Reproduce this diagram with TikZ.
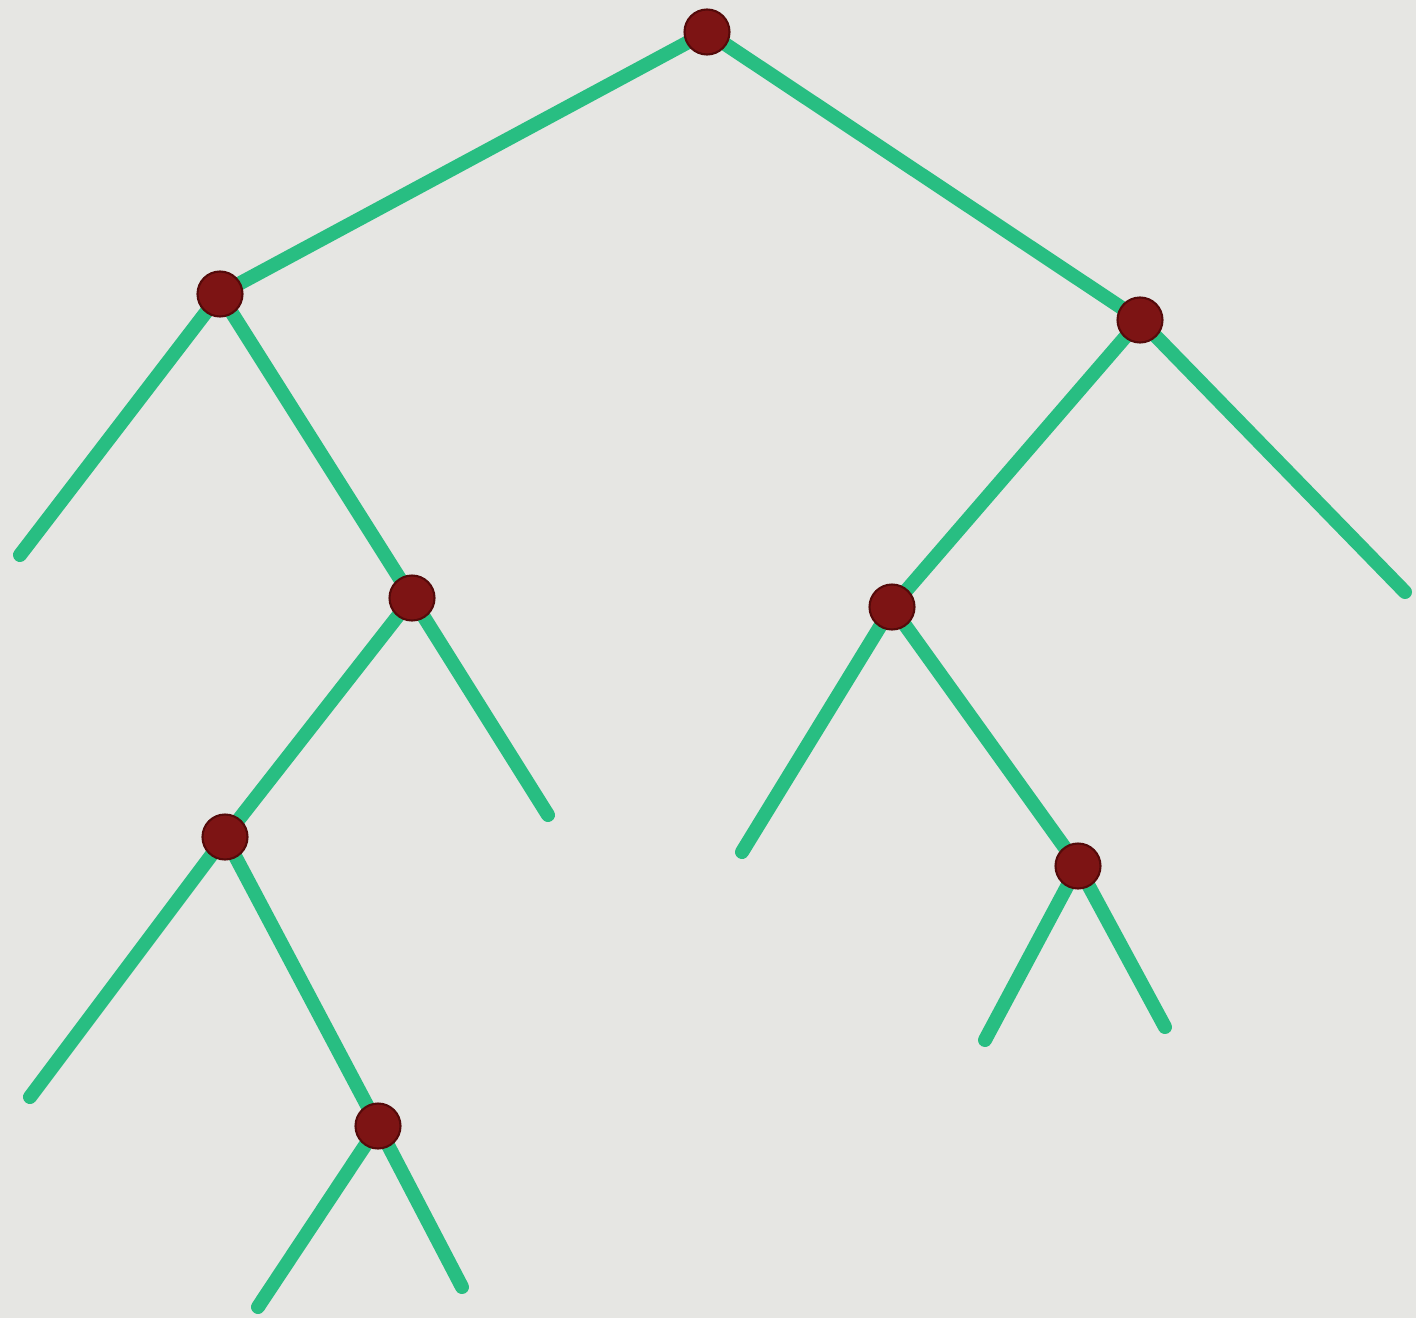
\documentclass[tikz,border=0pt]{standalone}
\definecolor{bg}{RGB}{230,230,227}
\definecolor{stem}{RGB}{40,190,130}
\definecolor{knot}{RGB}{125,20,20}
\definecolor{knotdark}{RGB}{85,10,10}
\begin{document}
\begin{tikzpicture}[x=0.02cm,y=-0.02cm,
  branch/.style={draw=stem,line width=0.28cm,line cap=round},
  knotnode/.style={circle,fill=knot,draw=knotdark,line width=1.2pt,minimum size=0.9cm,inner sep=0pt},
  tip/.style={coordinate}]
\fill[bg] (0,0) rectangle (1416,1318);
\useasboundingbox (0,0) rectangle (1416,1318);
% coordinates
\coordinate (root) at (707,32);
\coordinate (l) at (220,294);
\coordinate (r) at (1140,320);
\coordinate (lr) at (412,598);
\coordinate (lrl) at (225,837);
\coordinate (lrlr) at (378,1126);
\coordinate (rl) at (892,607);
\coordinate (rlr) at (1078,866);
\node[tip] (t1) at (20,555) {};
\node[tip] (t2) at (548,815) {};
\node[tip] (t3) at (30,1097) {};
\node[tip] (t4) at (258,1307) {};
\node[tip] (t5) at (462,1287) {};
\node[tip] (t6) at (1405,592) {};
\node[tip] (t7) at (742,852) {};
\node[tip] (t8) at (985,1040) {};
\node[tip] (t9) at (1165,1027) {};
% branches
\draw[branch] (root) -- (l);
\draw[branch] (root) -- (r);
\draw[branch] (l) -- (t1);
\draw[branch] (l) -- (lr);
\draw[branch] (lr) -- (lrl);
\draw[branch] (lr) -- (t2);
\draw[branch] (lrl) -- (t3);
\draw[branch] (lrl) -- (lrlr);
\draw[branch] (lrlr) -- (t4);
\draw[branch] (lrlr) -- (t5);
\draw[branch] (r) -- (rl);
\draw[branch] (r) -- (t6);
\draw[branch] (rl) -- (t7);
\draw[branch] (rl) -- (rlr);
\draw[branch] (rlr) -- (t8);
\draw[branch] (rlr) -- (t9);
% knots
\node[knotnode] (nroot) at (root) {};
\node[knotnode] (nl) at (l) {};
\node[knotnode] (nr) at (r) {};
\node[knotnode] (nlr) at (lr) {};
\node[knotnode] (nlrl) at (lrl) {};
\node[knotnode] (nlrlr) at (lrlr) {};
\node[knotnode] (nrl) at (rl) {};
\node[knotnode] (nrlr) at (rlr) {};
\end{tikzpicture}
\end{document}
